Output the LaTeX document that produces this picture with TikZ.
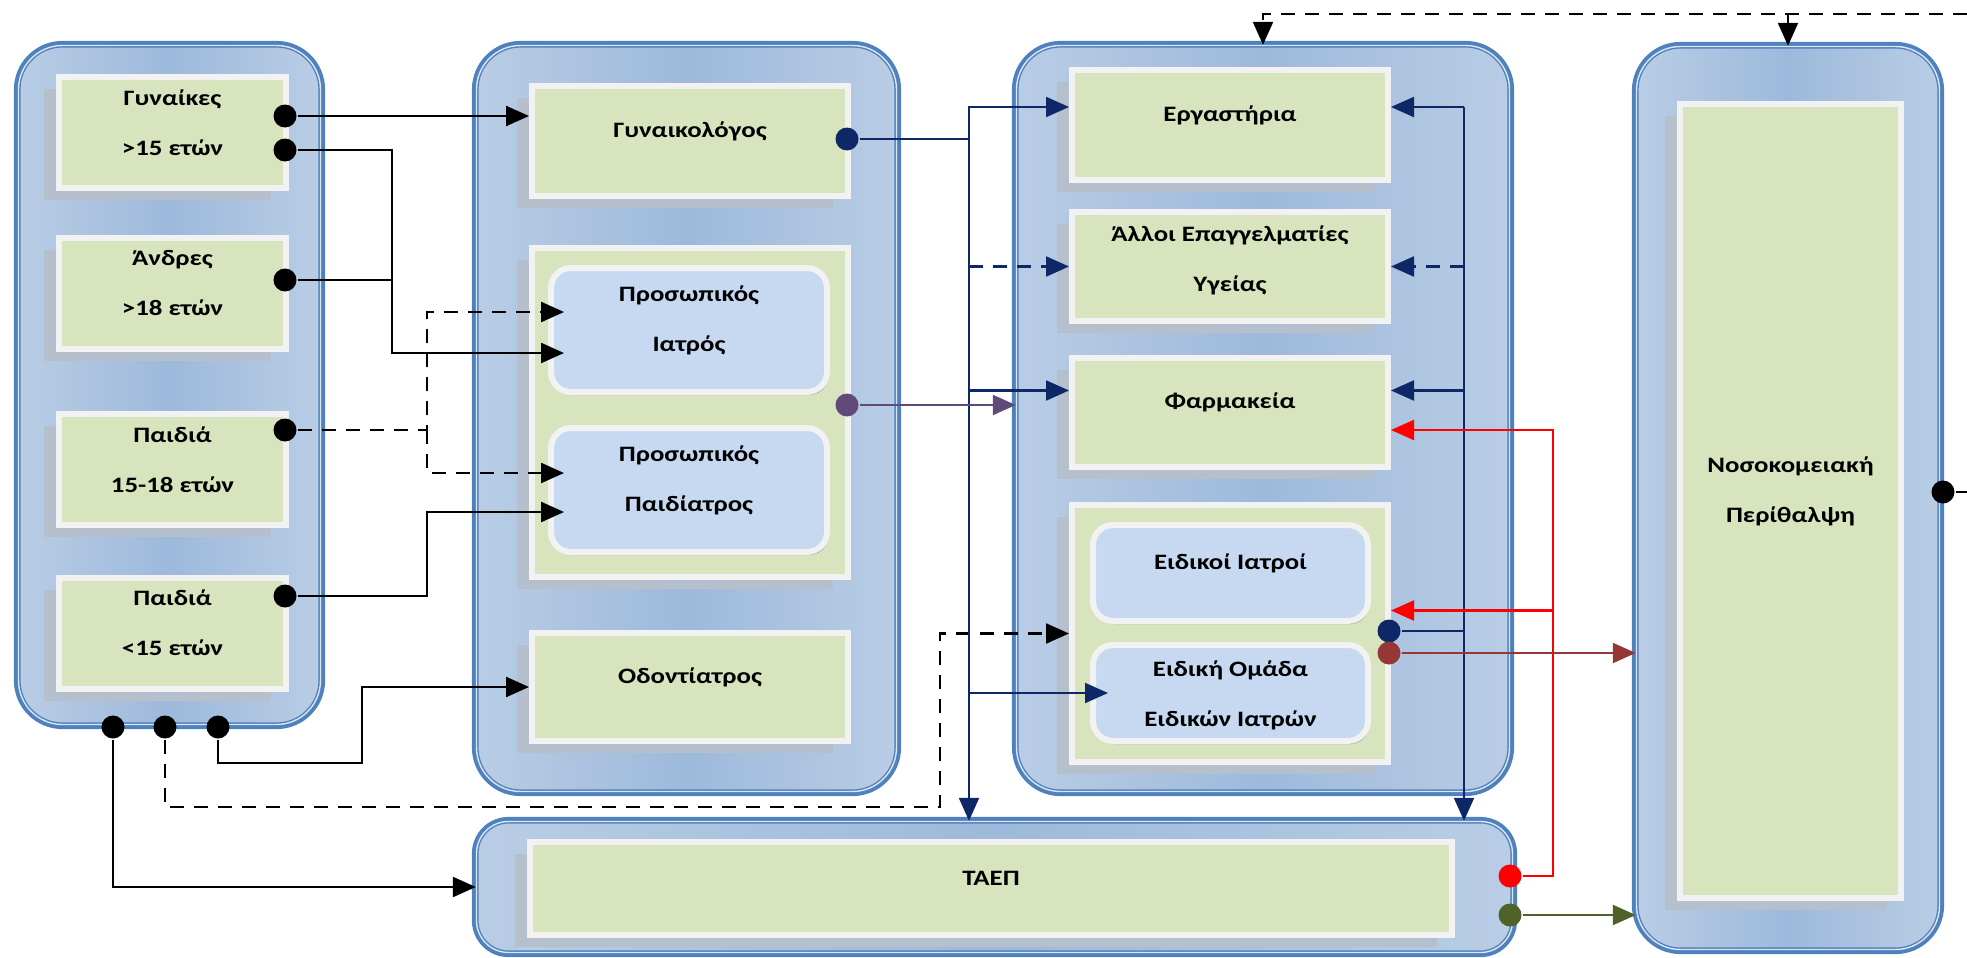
\documentclass[tikz,border=0pt]{standalone}
\usepackage{fontspec}
\setmainfont{Carlito}[FakeStretch=1.22]
\usetikzlibrary{arrows.meta,shadows}

\definecolor{frameblue}{HTML}{4F81BD}
\definecolor{framegap}{HTML}{DCE6F2}
\definecolor{paneblue}{HTML}{B9CDE5}
\definecolor{panemid}{HTML}{9DB9DB}
\definecolor{boxgreen}{HTML}{D7E4BD}
\definecolor{boxedge}{HTML}{F2F2F2}
\definecolor{shadegray}{HTML}{B6BFCC}
\definecolor{docblue}{HTML}{C6D9F1}
\definecolor{docshade}{HTML}{718383}
\definecolor{navy}{HTML}{0E2766}
\definecolor{plum}{HTML}{604A7B}
\definecolor{brick}{HTML}{953735}
\definecolor{olive}{HTML}{4F6228}

\begin{document}
\begin{tikzpicture}[x=0.5pt,y=-0.5pt,>={Triangle[length=11.5pt,width=10pt]},
                    line width=1.2pt]
  \tikzstyle{pane}=[rounded corners=22pt,preaction={draw=frameblue,line width=4.6pt},
                    draw=frameblue,line width=0.7pt,double=framegap,double distance=0.7pt,
                    left color=paneblue,right color=paneblue,middle color=panemid]
  \tikzstyle{cell}=[draw=boxedge,line width=3pt,fill=boxgreen,
                    drop shadow={shadow xshift=-7.5pt,shadow yshift=-6pt,fill=shadegray,opacity=1}]
  \tikzstyle{doc}=[rounded corners=10pt,draw=boxedge,line width=3pt,fill=docblue,
                   drop shadow={shadow xshift=0.8pt,shadow yshift=-1.5pt,fill=docshade,opacity=1}]
  \tikzstyle{txt}=[align=center,font=\bfseries\fontsize{11}{25}\selectfont,yshift=5pt]
  \tikzstyle{dot}=[circle,fill,inner sep=0pt,minimum size=11.5pt]
  \tikzstyle{dashline}=[dash pattern=on 7pt off 5pt]

  \useasboundingbox (0,0) rectangle (1967,958);

  % outer panes
  \node[pane,minimum width=151pt,minimum height=339.5pt] (col1) at (169.5,385) {};
  \node[pane,minimum width=210pt,minimum height=373pt]   (col2) at (686.5,418.5) {};
  \node[pane,minimum width=246.5pt,minimum height=373pt] (col3) at (1263,418.5) {};
  \node[pane,minimum width=151.5pt,minimum height=451.5pt] (col4) at (1788,498) {};
  \node[pane,rounded corners=16pt,minimum width=518pt,minimum height=65.5pt] (taepP) at (994.5,887) {};

  % population groups
  \node[cell,minimum width=113.5pt,minimum height=55.5pt,label={[txt]center:Γυναίκες\\>15 ετών}] (women) at (172.5,132.5) {};
  \node[cell,minimum width=113.5pt,minimum height=55.5pt,label={[txt]center:Άνδρες\\>18 ετών}] (men) at (172.5,293.5) {};
  \node[cell,minimum width=113.5pt,minimum height=55.5pt,label={[txt]center:Παιδιά\\15-18 ετών}] (teen) at (172.5,469.5) {};
  \node[cell,minimum width=113.5pt,minimum height=55.5pt,label={[txt]center:Παιδιά\\<15 ετών}] (kids) at (172.5,633) {};

  % first contact
  \node[cell,minimum width=158pt,minimum height=55pt,label={[txt]center:Γυναικολόγος}] (gyn) at (690,141) {};
  \node[cell,minimum width=158pt,minimum height=164.5pt] (persC) at (690,412.5) {};
  \node[doc,minimum width=138pt,minimum height=62pt,label={[txt]center:Προσωπικός\\Ιατρός}] (gp) at (689,330) {};
  \node[doc,minimum width=138pt,minimum height=62pt,label={[txt]center:Προσωπικός\\Παιδίατρος}] (paed) at (689,490) {};
  \node[cell,minimum width=158pt,minimum height=54pt,label={[txt]center:Οδοντίατρος}] (dent) at (690,687) {};

  % services
  \node[cell,minimum width=158pt,minimum height=55pt,label={[txt]center:Εργαστήρια}] (labs) at (1230,125) {};
  \node[cell,minimum width=158pt,minimum height=54.5pt,label={[txt,yshift=-2pt]center:Άλλοι Επαγγελματίες\\Υγείας}] (other) at (1230,266.5) {};
  \node[cell,minimum width=158pt,minimum height=54.5pt,label={[txt]center:Φαρμακεία}] (pharm) at (1230,412.5) {};
  \node[cell,minimum width=158pt,minimum height=128.5pt] (specC) at (1230,633.5) {};
  \node[doc,minimum width=137.5pt,minimum height=48pt,label={[txt]center:Ειδικοί Ιατροί}] (specD) at (1230.5,573) {};
  \node[doc,minimum width=137.5pt,minimum height=48pt,label={[txt,yshift=-6pt]center:Ειδική Ομάδα\\Ειδικών Ιατρών}] (specT) at (1230.5,693) {};

  \node[cell,minimum width=461pt,minimum height=46.5pt,label={[txt]center:ΤΑΕΠ}] (taep) at (991,888.5) {};
  \node[cell,minimum width=110.5pt,minimum height=397pt,label={[txt]center:Νοσοκομειακή\\Περίθαλψη}] (hosp) at (1790.5,501) {};

  % dots
  \node[dot] (dW1) at (285,116) {};
  \node[dot] (dW2) at (285,150) {};
  \node[dot] (dM)  at (285,280) {};
  \node[dot] (dT)  at (285,430) {};
  \node[dot] (dK)  at (285,596) {};
  \node[dot] (dB1) at (113,727) {};
  \node[dot] (dB2) at (165,727) {};
  \node[dot] (dB3) at (218,727) {};
  \node[dot,navy]  (dGyn)   at (847,139) {};
  \node[dot,plum]  (dGp)    at (847,405) {};
  \node[dot,navy]  (dSpec)  at (1389,631) {};
  \node[dot,brick] (dSpec2) at (1389,653) {};
  \node[dot,red]   (dTaepR) at (1510,876) {};
  \node[dot,olive] (dTaepG) at (1510,915) {};
  \node[dot]       (dHosp)  at (1943,492) {};

  % bends and entry points
  \coordinate (busW) at (392,353);
  \coordinate (busT) at (427,0);
  \coordinate (busD) at (362,763);
  \coordinate (busS) at (940,807);
  \coordinate (gpA) at ([xshift=8pt,yshift=9pt]gp.west);
  \coordinate (gpB) at ([xshift=8pt,yshift=-11.5pt]gp.west);
  \coordinate (paedA) at ([xshift=8pt,yshift=8.5pt]paed.west);
  \coordinate (paedB) at ([xshift=8pt,yshift=-11pt]paed.west);
  \coordinate (navyL) at (969,107);
  \coordinate (navyR) at (1464,107);
  \coordinate (pharmL) at ([yshift=11pt]pharm.west);
  \coordinate (pharmR) at ([yshift=11pt]pharm.east);
  \coordinate (teamIn) at ([xshift=9pt]specT.west);
  \coordinate (redBus) at (1553,430);
  \coordinate (redSpec) at ([yshift=11.5pt]specC.east);
  \coordinate (edgeT) at (1967,14);
  \coordinate (edgeH) at (1967,492);

  % black connectors
  \draw[->] (dW1) -- (dW1 -| gyn.west);
  \draw[->] (dW2) -| (busW) -- (gpB);
  \draw (dM) -| (busW);
  \draw[dashline,->] (dT) -- (dT -| busT) |- (gpA);
  \draw[dashline,->] (dT -| busT) |- (paedA);
  \draw[->] (dK) -- (dK -| busT) |- (paedB);
  \draw[->] (dB3) |- (busD) |- (dent.west);
  \draw[dashline,->] (dB2) |- (busS) |- (specC.west);
  \draw[->] (dB1) |- (taepP.west);

  % navy connectors
  \draw[navy,line width=1.1pt,->] (dGyn) -| (navyL) -- (navyL -| labs.west);
  \draw[navy,line width=1.1pt,->] (navyL) -- (navyL |- taepP.north);
  \draw[navy,line width=1.1pt,dashline,->] (navyL |- other) -- (other.west);
  \draw[navy,line width=1.1pt,->] (navyL |- pharmL) -- (pharmL);
  \draw[navy,line width=1.1pt,->] (navyL |- teamIn) -- (teamIn);
  \draw[navy,line width=1.1pt] (dSpec) -- (dSpec -| navyR);
  \draw[navy,line width=1.1pt,->] (navyR) -- (navyR |- taepP.north);
  \draw[navy,line width=1.1pt,->] (navyR) -- (navyR -| labs.east);
  \draw[navy,line width=1.1pt,dashline,->] (navyR |- other) -- (other.east);
  \draw[navy,line width=1.1pt,->] (navyR |- pharmR) -- (pharmR);

  % coloured connectors
  \draw[plum,line width=1.1pt,->] (dGp) -- (dGp -| col3.west);
  \draw[red,line width=1.1pt,->] (dTaepR) -| (redBus) -- (redBus -| pharm.east);
  \draw[red,line width=1.1pt,->] (redBus |- redSpec) -- (redSpec);
  \draw[brick,line width=1.1pt,->] (dSpec2) -- (dSpec2 -| col4.west);
  \draw[olive,line width=1.1pt,->] (dTaepG) -- (dTaepG -| col4.west);

  % top dashed line and hospital exit
  \draw[dashline,->] (edgeT) -| (col3.north);
  \draw[dashline,->] (col4.north |- edgeT) -- (col4.north);
  \draw (dHosp) -- (edgeH);
\end{tikzpicture}
\end{document}
